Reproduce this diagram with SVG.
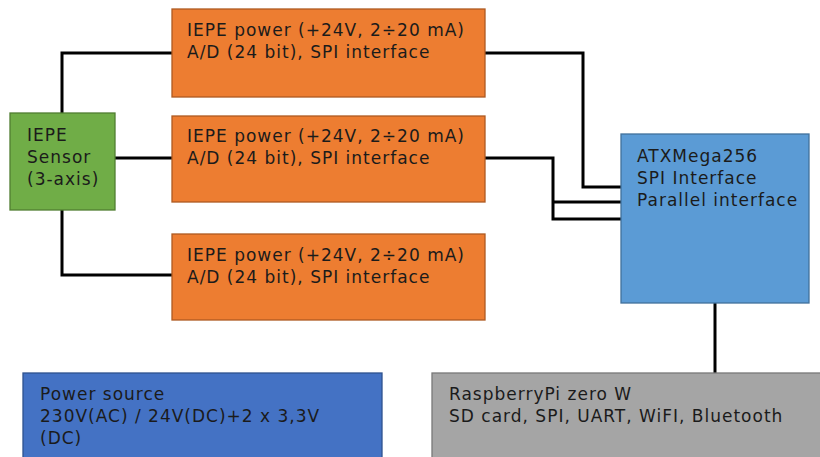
<svg xmlns="http://www.w3.org/2000/svg" width="820" height="457" viewBox="0 0 820 457">
<style>
text{font-family:"DejaVu Sans",Verdana,sans-serif;font-size:17px;letter-spacing:1px;fill:#1b1b1b}
.box{stroke-width:1.3}
.or{fill:#ED7D31;stroke:#AE5A21}
.gr{fill:#70AD47;stroke:#507E32}
.bl{fill:#5B9BD5;stroke:#41719C}
.pw{fill:#4472C4;stroke:#2F528F}
.gy{fill:#A5A5A5;stroke:#787878}
.c{fill:none;stroke:#000;stroke-width:3}
</style>
<rect width="820" height="457" fill="#fff"/>
<g id="connectors">
<polyline class="c" points="62,113 62,53 172,53"/>
<polyline class="c" points="62,210 62,275 172,275"/>
<line class="c" x1="115" y1="158" x2="172" y2="158"/>
<polyline class="c" points="485,53 583,53 583,187 621,187"/>
<polyline class="c" points="485,158 553,158 553,219 621,219"/>
<line class="c" x1="553" y1="202" x2="621" y2="202"/>
<line class="c" x1="715" y1="303" x2="715" y2="373"/>
</g>
<g id="adc1"><rect class="box or" x="172" y="9" width="313" height="88"/>
<text x="187" y="36">IEPE power (+24V, 2÷20 mA)</text><text x="187" y="58">A/D (24 bit), SPI interface</text></g>
<g id="adc2"><rect class="box or" x="172" y="116" width="313" height="86"/>
<text x="187" y="142">IEPE power (+24V, 2÷20 mA)</text><text x="187" y="164">A/D (24 bit), SPI interface</text></g>
<g id="adc3"><rect class="box or" x="172" y="234" width="313" height="86"/>
<text x="187" y="261">IEPE power (+24V, 2÷20 mA)</text><text x="187" y="283">A/D (24 bit), SPI interface</text></g>
<g id="sensor"><rect class="box gr" x="10" y="113" width="105" height="97"/>
<text x="27" y="141">IEPE</text><text x="27" y="163">Sensor</text><text x="27" y="185">(3-axis)</text></g>
<g id="atxmega"><rect class="box bl" x="621" y="134" width="188" height="169"/>
<text x="637" y="162">ATXMega256</text><text x="637" y="184">SPI Interface</text><text x="637" y="206">Parallel interface</text></g>
<g id="power"><rect class="box pw" x="23" y="373" width="359" height="100"/>
<text x="40" y="400">Power source</text><text x="40" y="422">230V(AC) / 24V(DC)+2 x 3,3V</text><text x="40" y="444">(DC)</text></g>
<g id="rpi"><rect class="box gy" x="432" y="373" width="400" height="100"/>
<text x="449" y="400">RaspberryPi zero W</text><text x="449" y="422">SD card, SPI, UART, WiFI, Bluetooth</text></g>
</svg>
